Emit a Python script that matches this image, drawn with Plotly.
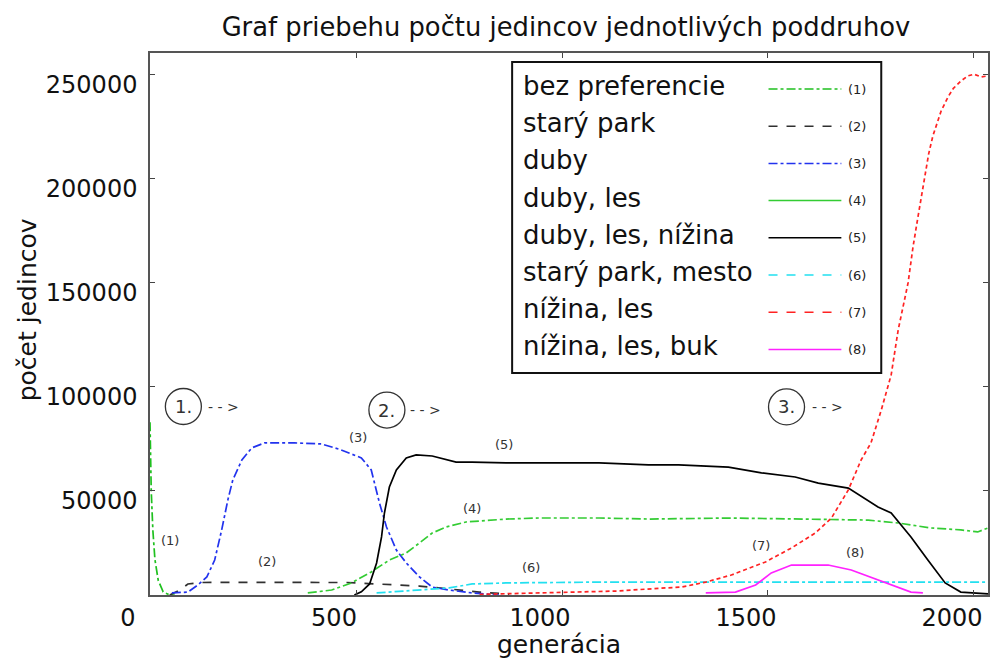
import plotly.graph_objects as go

# ---------------- data ----------------
series_names = ["bez preferencie", "starý park", "duby", "duby, les",
                "duby, les, nížina", "starý park, mesto", "nížina, les",
                "nížina, les, buk"]
series_tags = ["(1)", "(2)", "(3)", "(4)", "(5)", "(6)", "(7)", "(8)"]

gen_1 = [0, 3, 7, 12, 20, 32, 48, 60]
pop_1 = [83000, 50000, 31000, 17000, 7000, 1500, 0, 0]

gen_2 = [48, 73, 92, 121, 200, 266, 350, 420, 477, 520, 580, 654, 726, 799, 872]
pop_2 = [0, 2400, 5300, 6000, 6100, 6200, 6100, 6000, 6000, 5600, 5000, 4300, 2900, 1400, 400]

gen_3 = [53, 92, 116, 138, 157, 174, 189, 201, 223, 247, 278, 320, 351, 416, 460,
         513, 537, 557, 574, 598, 622, 654, 685, 726, 782, 847]
pop_3 = [1000, 1400, 4800, 8700, 16800, 31300, 45700, 55300, 64900, 70700, 73100, 73300,
         73100, 72600, 70000, 65900, 60100, 44200, 32700, 21600, 15400, 8700, 3800, 2400,
         1000, 0]

gen_4 = [383, 441, 489, 537, 581, 622, 654, 685, 719, 767, 864, 944, 1090, 1210, 1411,
         1654, 1743, 1816, 1896, 1968, 2009, 2034]
pop_4 = [1000, 2400, 5800, 11100, 16800, 20200, 25000, 29800, 32700, 35100, 36500, 37000,
         37000, 36500, 37000, 36500, 36000, 34600, 32200, 31300, 30300, 32200]

gen_5 = [496, 513, 533, 550, 562, 569, 581, 598, 622, 646, 685, 743, 782, 864, 944, 1090,
         1210, 1283, 1404, 1484, 1566, 1622, 1695, 1767, 1799, 1847, 1888, 1930, 1968,
         2009, 2034]
pop_5 = [0, 1500, 5300, 15400, 27900, 39400, 51900, 60100, 65900, 67300, 66800, 63900,
         63900, 63500, 63500, 63500, 62500, 62500, 61500, 58700, 56700, 53800, 51400,
         42300, 39400, 27900, 16800, 5800, 1400, 1000, 500]

gen_6 = [550, 646, 726, 782, 864, 1090, 1500, 2034]
pop_6 = [1000, 2400, 3400, 5300, 5800, 6200, 6200, 6200]

gen_7 = [800, 900, 1000, 1131, 1252, 1290, 1349, 1411, 1494, 1557, 1615, 1654, 1695,
         1726, 1750, 1775, 1799, 1816, 1840, 1852, 1864, 1881, 1890, 1900, 1910, 1920,
         1937, 1950, 1968, 1985, 2000, 2017, 2034]
pop_7 = [300, 800, 1200, 1900, 3400, 3800, 6200, 9600, 15900, 22600, 29800, 37000, 50500,
         64900, 73100, 88900, 105800, 127400, 150000, 167300, 181700, 202900, 212000,
         220500, 227000, 232500, 239400, 243500, 247000, 249500, 250300, 249000, 249500]

gen_8 = [1349, 1421, 1470, 1508, 1557, 1646, 1702, 1767, 1816, 1847, 1876]
pop_8 = [1000, 1400, 4800, 10600, 14400, 14400, 12000, 7200, 3400, 1400, 1000]

x_ticks = [0, 500, 1000, 1500, 2000]
x_ticktext = ["0", "500", "1000", "1500", "2000"]
y_ticks = [0, 50000, 100000, 150000, 200000, 250000]
y_ticktext = ["", "50000", "100000", "150000", "200000", "250000"]

phase_labels = ["1.", "2.", "3."]

# ---------------- styling ----------------
W, H = 995, 665
ML, MR, MT, MB = 150, 5, 53, 70
PW, PH = W - ML - MR, H - MT - MB
X_MAX, Y_MAX = 2034, 260500

colors = ["#1fc01f", "#303030", "#2233ee", "#33cc33", "#000000", "#22e0f0", "#ff2222", "#ff22ff"]
plot_dash = ["dashdot", "dash", "dashdot", "dashdot", "solid", "dashdot", "4px,3px", "solid"]
legend_dash = ["dashdot", "dash", "dashdot", "solid", "solid", "dash", "dash", "solid"]
FONT = "DejaVu Sans"


def px_x(p):
    return (p - ML) / PW


def px_y(p):
    return (H - MB - p) / PH


gens = [gen_1, gen_2, gen_3, gen_4, gen_5, gen_6, gen_7, gen_8]
pops = [pop_1, pop_2, pop_3, pop_4, pop_5, pop_6, pop_7, pop_8]

fig = go.Figure()
for i in range(8):
    fig.add_trace(go.Scatter(x=gens[i], y=pops[i], mode="lines", name=series_names[i],
                             line=dict(color=colors[i], width=1.7, dash=plot_dash[i]),
                             showlegend=False))

shapes = []
annotations = []

# curve tags inside the plot
tag_pos = [(48, 26400), (283, 15900), (504, 75500), (782, 41800), (859, 72100),
           (925, 13000), (1482, 23600), (1712, 20200)]
for t, (tx, ty) in zip(series_tags, tag_pos):
    annotations.append(dict(x=tx, y=ty, xref="x", yref="y", text=t, showarrow=False,
                            xanchor="center", yanchor="middle",
                            font=dict(family=FONT, size=13, color="#333")))

# phase markers (circled numbers with dashed arrows)
phase_pos = [(81, 90600, 179), (575, 88900, 668), (1545, 90400, 1644)]
for lab, (cx, cy, ax) in zip(phase_labels, phase_pos):
    shapes.append(dict(type="circle", xref="x", yref="y", xsizemode="pixel", ysizemode="pixel",
                       xanchor=cx, yanchor=cy, x0=-18, x1=18, y0=-18, y1=18,
                       line=dict(color="#333", width=1.3)))
    annotations.append(dict(x=cx, y=cy, xref="x", yref="y", text=lab, showarrow=False,
                            xanchor="center", yanchor="middle",
                            font=dict(family=FONT, size=18, color="#333")))
    annotations.append(dict(x=ax, y=cy, xref="x", yref="y", text="- - >", showarrow=False,
                            xanchor="center", yanchor="middle",
                            font=dict(family=FONT, size=14, color="#333")))

# custom legend box
shapes.append(dict(type="rect", xref="paper", yref="paper",
                   x0=px_x(513), x1=px_x(883), y0=px_y(373), y1=px_y(62),
                   line=dict(color="#111", width=2), fillcolor="white", layer="above"))
for i in range(8):
    ry = 86 + 37.2 * i
    annotations.append(dict(x=px_x(522), y=px_y(ry), xref="paper", yref="paper",
                            xanchor="left", yanchor="middle", text=series_names[i],
                            showarrow=False, font=dict(family=FONT, size=26, color="#111")))
    shapes.append(dict(type="line", xref="paper", yref="paper",
                       x0=px_x(770), x1=px_x(843), y0=px_y(ry + 3), y1=px_y(ry + 3),
                       line=dict(color=colors[i], width=1.5, dash=legend_dash[i]),
                       layer="above"))
    annotations.append(dict(x=px_x(859), y=px_y(ry + 3), xref="paper", yref="paper",
                            xanchor="center", yanchor="middle", text=series_tags[i],
                            showarrow=False, font=dict(family=FONT, size=13, color="#222")))

# axis titles
annotations.append(dict(x=px_x(560), y=px_y(644), xref="paper", yref="paper",
                        xanchor="center", yanchor="middle",
                        text="generácia", showarrow=False,
                        font=dict(family=FONT, size=25, color="#111")))
annotations.append(dict(x=px_x(27), y=px_y(310), xref="paper", yref="paper",
                        xanchor="center", yanchor="middle",
                        text="počet jedincov", textangle=-90, showarrow=False,
                        font=dict(family=FONT, size=25, color="#111")))

fig.update_layout(
    width=W, height=H,
    margin=dict(l=ML, r=MR, t=MT, b=MB, pad=0),
    paper_bgcolor="white", plot_bgcolor="white",
    title=dict(text="Graf priebehu počtu jedincov jednotlivých poddruhov",
               x=566 / W, xanchor="center", y=1 - 27 / H, yanchor="middle",
               xref="container", yref="container",
               font=dict(family=FONT, size=25.8, color="#111")),
    xaxis=dict(range=[0, X_MAX], tickvals=x_ticks, ticktext=x_ticktext,
               ticks="inside", ticklen=5, tickcolor="#444", mirror="ticks",
               showline=True, linecolor="#555", linewidth=1.5,
               showgrid=False, zeroline=False, ticklabelshift=-22,
               tickfont=dict(family=FONT, size=24, color="#111")),
    yaxis=dict(range=[0, Y_MAX], tickvals=y_ticks, ticktext=y_ticktext,
               ticks="inside", ticklen=5, tickcolor="#444", mirror="ticks",
               showline=True, linecolor="#555", linewidth=1.5,
               showgrid=False, zeroline=False, ticklabelshift=10,
               ticklabelstandoff=6,
               tickfont=dict(family=FONT, size=24, color="#111")),
    shapes=shapes,
    annotations=annotations,
)

fig.write_html("out.html")
